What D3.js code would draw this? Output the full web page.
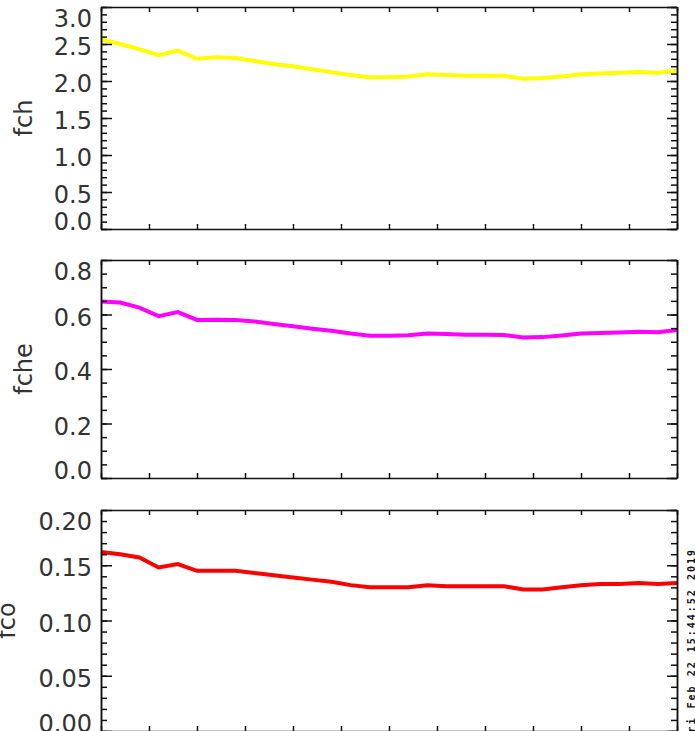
<!DOCTYPE html>
<html>
<head>
<meta charset="utf-8">
<script src="https://cdn.jsdelivr.net/npm/d3@7"></script>
<style>
  html, body { margin: 0; padding: 0; background: #fff; }
  svg { display: block; }
</style>
</head>
<body>
<svg id="chart" width="695" height="731"></svg>
<script>
// Sample positions along the run (shared by all three panels)
const xs = [0, 4, 8, 12, 16, 20, 24, 28, 32, 36, 40, 44, 48, 52, 56, 60,
            64, 68, 72, 76, 80, 84, 88, 92, 96, 100, 104, 108, 112, 116, 120];
const xTicks = d3.range(0, 121, 10);

// Series values
const fch = [2.56, 2.50, 2.43, 2.35, 2.41, 2.30, 2.32, 2.31, 2.27, 2.23, 2.20,
             2.16, 2.12, 2.08, 2.05, 2.05, 2.06, 2.09, 2.08, 2.07, 2.07, 2.07,
             2.03, 2.04, 2.06, 2.09, 2.10, 2.11, 2.12, 2.11, 2.14];
const fche = [0.648, 0.644, 0.625, 0.594, 0.609, 0.580, 0.581, 0.580, 0.574,
              0.565, 0.557, 0.548, 0.540, 0.530, 0.522, 0.522, 0.524, 0.530,
              0.528, 0.526, 0.526, 0.525, 0.516, 0.517, 0.523, 0.530, 0.532,
              0.534, 0.537, 0.535, 0.543];
const fco = [0.162, 0.160, 0.157, 0.148, 0.151, 0.145, 0.145, 0.145, 0.143,
             0.141, 0.139, 0.137, 0.135, 0.132, 0.130, 0.130, 0.130, 0.132,
             0.131, 0.131, 0.131, 0.131, 0.128, 0.128, 0.130, 0.132, 0.133,
             0.133, 0.134, 0.133, 0.134];

// Y tick labels per panel
const fchTicks  = [0.0, 0.5, 1.0, 1.5, 2.0, 2.5, 3.0];
const fcheTicks = [0.0, 0.2, 0.4, 0.6, 0.8];
const fcoTicks  = [0.00, 0.05, 0.10, 0.15, 0.20];

const stamp = "Fri Feb 22 15:44:52 2019";

const panels = [
  { name: "fch",  values: fch,  color: "#ffff00", domain: [0, 3.0], ticks: fchTicks,
    minor: 0.1, fmt: d3.format(".1f"), top: 7, bottom: 229, titleX: 32 },
  { name: "fche", values: fche, color: "#ff00ff", domain: [0, 0.8], ticks: fcheTicks,
    minor: 0.05, fmt: d3.format(".1f"), top: 260, bottom: 478, titleX: 32 },
  { name: "fco",  values: fco,  color: "#ff0000", domain: [0, 0.2], ticks: fcoTicks,
    minor: 0.01, fmt: d3.format(".2f"), top: 510, bottom: 731, titleX: 15 }
];

const left = 101, right = 677;
const svg = d3.select("#chart");
const x = d3.scaleLinear().domain([0, 120]).range([left, right]);

panels.forEach(p => {
  const y = d3.scaleLinear().domain(p.domain).range([p.bottom, p.top]);
  const g = svg.append("g");

  const n = Math.round((p.domain[1] - p.domain[0]) / p.minor);
  const minorVals = d3.range(0, n + 1).map(i => p.domain[0] + i * p.minor);

  // data line
  const line = d3.line().x((d, i) => x(xs[i])).y(d => y(d));
  g.append("path")
    .datum(p.values)
    .attr("fill", "none")
    .attr("stroke", p.color)
    .attr("stroke-width", 4)
    .attr("d", line);

  // left axis: major ticks with labels, minor ticks, pointing inward
  g.append("g").attr("transform", `translate(${left},0)`)
    .call(d3.axisLeft(y).tickValues(minorVals).tickSize(-6).tickSizeOuter(0).tickFormat(""));
  const leftMajor = g.append("g").attr("transform", `translate(${left},0)`)
    .call(d3.axisLeft(y).tickValues(p.ticks).tickSize(-11).tickSizeOuter(0)
      .tickPadding(9).tickFormat(p.fmt));
  leftMajor.selectAll("text")
    .attr("font-family", "'DejaVu Sans', sans-serif")
    .attr("font-size", 24)
    .attr("fill", "#333")
    .attr("y", d => {
      const ty = Math.max(p.top + 12, Math.min(p.bottom - 7, y(d) + 3));
      return ty - y(d);
    });

  // right axis: mirrored ticks, no labels
  g.append("g").attr("transform", `translate(${right},0)`)
    .call(d3.axisLeft(y).tickValues(minorVals).tickSize(6).tickSizeOuter(0).tickFormat(""));
  g.append("g").attr("transform", `translate(${right},0)`)
    .call(d3.axisLeft(y).tickValues(p.ticks).tickSize(10).tickSizeOuter(0).tickFormat(""));

  // top and bottom axes: short inward ticks, no labels
  g.append("g").attr("transform", `translate(0,${p.top})`)
    .call(d3.axisBottom(x).tickValues(xTicks).tickSize(5).tickSizeOuter(0).tickFormat(""));
  g.append("g").attr("transform", `translate(0,${p.bottom})`)
    .call(d3.axisTop(x).tickValues(xTicks).tickSize(5).tickSizeOuter(0).tickFormat(""));

  g.selectAll(".domain, .tick line").attr("stroke", "#111").attr("stroke-width", 1.5);

  // rotated panel title
  g.append("text")
    .attr("transform", `translate(${p.titleX},${(p.top + p.bottom) / 2}) rotate(-90)`)
    .attr("text-anchor", "middle")
    .attr("font-family", "'DejaVu Sans', sans-serif")
    .attr("font-size", 24)
    .attr("fill", "#333")
    .text(p.name);
});

// timestamp along the right edge
svg.append("text")
  .attr("transform", `translate(695,548) rotate(-90)`)
  .attr("text-anchor", "end")
  .attr("font-family", "'DejaVu Sans Mono', monospace")
  .attr("font-size", 10)
  .attr("font-weight", "bold")
  .attr("letter-spacing", 2)
  .attr("fill", "#111")
  .text(stamp);
</script>
</body>
</html>
